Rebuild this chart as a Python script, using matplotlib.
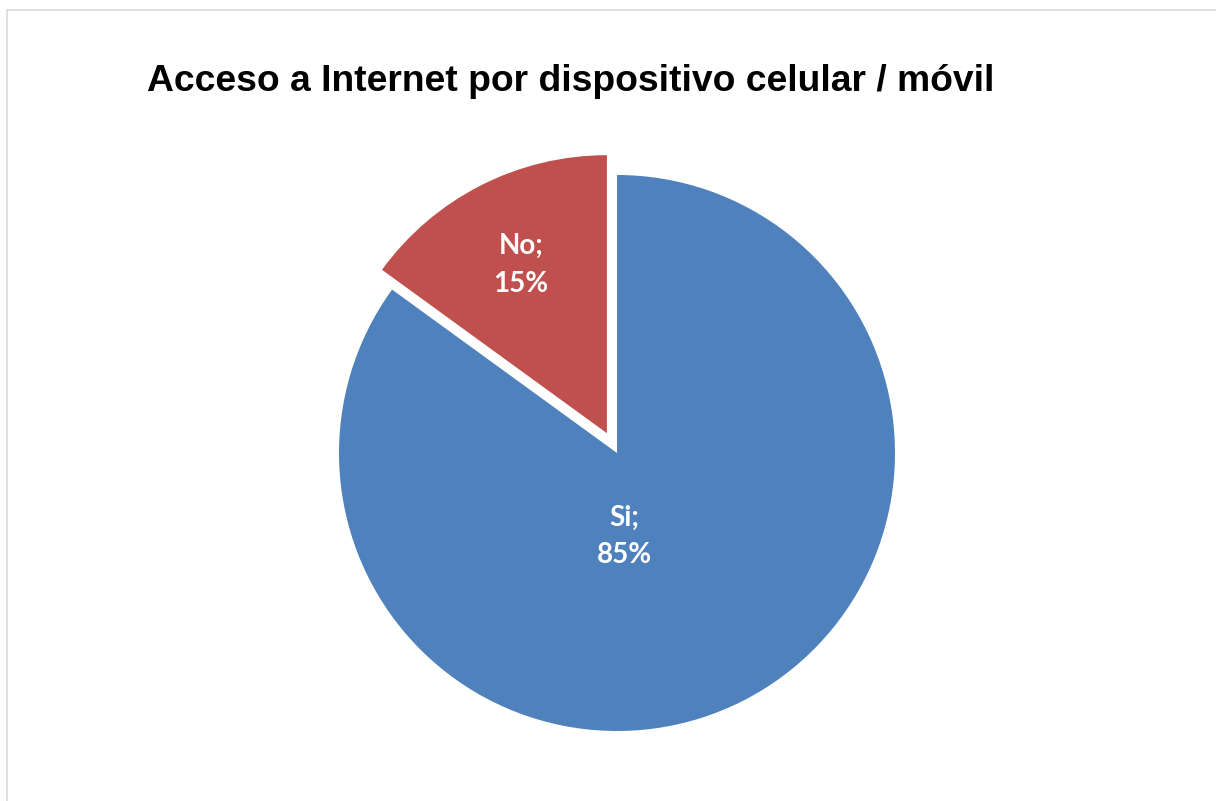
import matplotlib
matplotlib.use("Agg")
import matplotlib.pyplot as plt
from matplotlib.patches import Rectangle

# Data
categories = ["Si", "No"]
shares = [85, 15]
colors = ["#4F81BD", "#C0504D"]
explode = [0, 0.08]
title = "Acceso a Internet por dispositivo celular / móvil"

W, H = 1216, 801
fig = plt.figure(figsize=(W / 100, H / 100), dpi=100)
fig.patch.set_facecolor("white")

# Light gray chart frame
fig.patches.append(Rectangle((7 / W, -0.01), 1.02, (H - 10) / H + 0.01,
                             transform=fig.transFigure, fill=False,
                             edgecolor="#D9D9D9", linewidth=1.2))

# Pie area: centre (617, 453) px, radius 278 px
cx, cy, r = 617, 453, 278
half = 1.2 * r
ax = fig.add_axes([(cx - half) / W, (H - cy - half) / H, 2 * half / W, 2 * half / H])

labels = {round(v): c for c, v in zip(categories, shares)}
wedges, texts, autotexts = ax.pie(
    shares, colors=colors, explode=explode, startangle=90, counterclock=False,
    radius=1, pctdistance=0.68,
    autopct=lambda p: f"{labels[round(p)]};\n{p:.0f}%",
    textprops=dict(color="white", fontsize=20, fontweight="bold",
                   family="Lato", linespacing=1.55),
    wedgeprops=dict(linewidth=0),
)
autotexts[0].set_position((0.025, -0.30))
for t in autotexts:
    t.set_ha("center")
    t.set_va("center")
ax.set_xlim(-1.2, 1.2)
ax.set_ylim(-1.2, 1.2)
ax.set_aspect("auto")
ax.axis("off")

fig.text(147 / W, (H - 91) / H, title, fontsize=26.8, fontweight="bold",
         family="Liberation Sans", ha="left", va="baseline")

fig.savefig("out.png", dpi=100, facecolor="white")
